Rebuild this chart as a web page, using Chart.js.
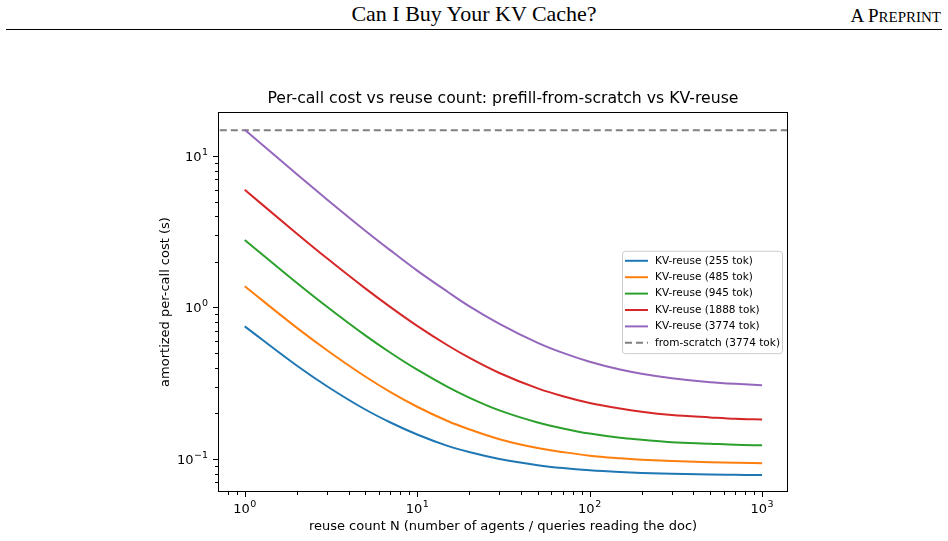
<!DOCTYPE html>
<html>
<head>
<meta charset="utf-8">
<script src="https://cdn.jsdelivr.net/npm/chart.js@4.4.1/dist/chart.umd.min.js"></script>
<style>
  body { margin: 0; background: #fff; }
  #page { position: relative; width: 948px; height: 541px; overflow: hidden; }
  #runhead { position: absolute; left: 0; top: 2px; width: 948px; text-align: center;
    font: 22px "Liberation Serif", "DejaVu Serif", serif; color: #000; line-height: 24px; }
  #preprint { position: absolute; right: 7px; top: 5px; font: 19px "Liberation Serif", serif;
    color: #000; line-height: 22px; }
  #preprint span { font-size: 15px; }
  #rule { position: absolute; left: 6px; width: 936px; top: 29px; height: 1px; background: #000; }
  #chart { position: absolute; left: 0; top: 0; }
</style>
</head>
<body>
<div id="page">
  <div id="runhead">Can I Buy Your KV Cache?</div>
  <div id="preprint">A P<span>REPRINT</span></div>
  <div id="rule"></div>
  <canvas id="chart" width="948" height="541"></canvas>
</div>
<script>
// reuse counts N sampled along the x axis
const reuseN = [1, 2, 3, 5, 7, 10, 15, 20, 30, 50, 70, 100, 150, 200, 300, 500, 700, 1000];

// amortized per-call cost (s)
const cost255 = [0.75, 0.414, 0.302, 0.212, 0.174, 0.145, 0.122, 0.111, 0.0999, 0.0910, 0.0871, 0.0842, 0.0820, 0.0809, 0.0797, 0.0788, 0.0785, 0.0782];
const cost485 = [1.38, 0.736, 0.522, 0.350, 0.276, 0.221, 0.178, 0.157, 0.135, 0.118, 0.111, 0.105, 0.101, 0.0989, 0.0968, 0.0951, 0.0943, 0.0938];
const cost945 = [2.79, 1.455, 1.01, 0.654, 0.502, 0.388, 0.299, 0.254, 0.209, 0.174, 0.159, 0.147, 0.138, 0.134, 0.129, 0.126, 0.124, 0.123];
const cost1888 = [5.98, 3.08, 2.11, 1.336, 1.005, 0.756, 0.563, 0.466, 0.369, 0.292, 0.259, 0.234, 0.215, 0.205, 0.195, 0.188, 0.184, 0.182];
const cost3774 = [14.9, 7.59, 5.16, 3.21, 2.38, 1.75, 1.27, 1.02, 0.779, 0.584, 0.501, 0.438, 0.389, 0.365, 0.341, 0.321, 0.313, 0.307];
const scratchCost = 14.8;

const seriesLabels = ['KV-reuse (255 tok)', 'KV-reuse (485 tok)', 'KV-reuse (945 tok)', 'KV-reuse (1888 tok)', 'KV-reuse (3774 tok)'];
const scratchLabel = 'from-scratch (3774 tok)';
const seriesColors = ['#1f77b4', '#ff7f0e', '#2ca02c', '#d62728', '#9467bd'];

// axis limits and ticks (powers of ten)
const xRange = [0.717, 1413];
const yRange = [0.0605, 19.5];
const xMajor = [1, 10, 100, 1000];
const yMajor = [0.1, 1, 10];

function minorTicks(range) {
  const out = [];
  for (let e = -2; e <= 3; e++) {
    for (let m = 2; m <= 9; m++) {
      const v = m * Math.pow(10, e);
      if (v > range[0] && v < range[1]) out.push(v);
    }
  }
  return out;
}

function expText(v) {
  const e = Math.round(Math.log10(v));
  return e < 0 ? '\u2212' + (-e) : String(e);
}

const FONT = 'DejaVu Sans';
const allCosts = [cost255, cost485, cost945, cost1888, cost3774];

const datasets = allCosts.map((arr, i) => ({
  label: seriesLabels[i],
  data: reuseN.map((n, j) => ({ x: n, y: arr[j] })),
  borderColor: seriesColors[i],
  borderWidth: 2,
  pointRadius: 0,
  cubicInterpolationMode: 'monotone',
}));
datasets.push({
  label: scratchLabel,
  data: xRange.map(n => ({ x: n, y: scratchCost })),
  borderColor: '#808080',
  borderWidth: 2,
  borderDash: [7, 4],
  pointRadius: 0,
});

const decorations = {
  id: 'decorations',
  afterDatasetsDraw(chart) {
    const { ctx, chartArea: a, scales: { x, y } } = chart;
    ctx.save();

    // frame
    ctx.strokeStyle = '#000';
    ctx.lineWidth = 1;
    ctx.strokeRect(a.left + 0.5, a.top + 0.5, a.right - a.left - 1, a.bottom - a.top - 1);

    // tick marks
    const tick = (vals, len, isX) => {
      vals.forEach(v => {
        ctx.beginPath();
        if (isX) {
          const px = Math.round(x.getPixelForValue(v)) + 0.5;
          ctx.moveTo(px, a.bottom);
          ctx.lineTo(px, a.bottom + len);
        } else {
          const py = Math.round(y.getPixelForValue(v)) + 0.5;
          ctx.moveTo(a.left, py);
          ctx.lineTo(a.left - len, py);
        }
        ctx.stroke();
      });
    };
    tick(xMajor, 5, true);
    tick(minorTicks(xRange), 3, true);
    tick(yMajor, 5, false);
    tick(minorTicks(yRange), 3, false);

    // tick labels like 10^k
    ctx.fillStyle = '#000';
    ctx.textBaseline = 'alphabetic';
    ctx.textAlign = 'left';
    const drawPow = (v, left, base) => {
      ctx.font = '13px ' + FONT;
      const w10 = ctx.measureText('10').width;
      ctx.fillText('10', left, base);
      ctx.font = '9.5px ' + FONT;
      ctx.fillText(expText(v), left + w10 + 0.5, base - 6);
    };
    const powWidth = v => {
      ctx.font = '13px ' + FONT;
      const w10 = ctx.measureText('10').width;
      ctx.font = '9.5px ' + FONT;
      return w10 + 0.5 + ctx.measureText(expText(v)).width;
    };
    xMajor.forEach(v => {
      const px = x.getPixelForValue(v);
      drawPow(v, px - powWidth(v) / 2, a.bottom + 21);
    });
    yMajor.forEach(v => {
      const py = y.getPixelForValue(v);
      drawPow(v, a.left - 10 - powWidth(v), py + 5);
    });

    // title and axis labels
    ctx.textAlign = 'center';
    ctx.textBaseline = 'middle';
    const cx = (a.left + a.right) / 2;
    ctx.font = '15.7px ' + FONT;
    ctx.fillText('Per-call cost vs reuse count: prefill-from-scratch vs KV-reuse', cx, a.top - 13);
    ctx.font = '13px ' + FONT;
    ctx.fillText('reuse count N (number of agents / queries reading the doc)', cx, a.bottom + 35);
    ctx.save();
    ctx.translate(a.left - 52, (a.top + a.bottom) / 2);
    ctx.rotate(-Math.PI / 2);
    ctx.fillText('amortized per-call cost (s)', 0, 0);
    ctx.restore();

    // legend
    const labels = seriesLabels.concat([scratchLabel]);
    const rowH = 16.4;
    const boxW = 160, boxH = labels.length * rowH + 4;
    const bx = a.right - 6 - boxW;
    const by = (a.top + a.bottom) / 2 - boxH / 2;
    ctx.beginPath();
    ctx.roundRect(bx + 0.5, by + 0.5, boxW, boxH, 3);
    ctx.fillStyle = 'rgba(255,255,255,0.8)';
    ctx.fill();
    ctx.strokeStyle = '#cccccc';
    ctx.lineWidth = 1;
    ctx.stroke();
    ctx.font = '10.5px ' + FONT;
    ctx.textAlign = 'left';
    labels.forEach((lab, i) => {
      const ry = by + 10 + i * rowH;
      ctx.beginPath();
      ctx.lineWidth = 2;
      if (i < seriesColors.length) {
        ctx.strokeStyle = seriesColors[i];
        ctx.setLineDash([]);
      } else {
        ctx.strokeStyle = '#808080';
        ctx.setLineDash([7, 4]);
      }
      ctx.moveTo(bx + 3, ry);
      ctx.lineTo(bx + 26, ry);
      ctx.stroke();
      ctx.setLineDash([]);
      ctx.fillStyle = '#000';
      ctx.fillText(lab, bx + 33, ry);
    });
    ctx.restore();
  }
};

new Chart(document.getElementById('chart').getContext('2d'), {
  type: 'line',
  data: { datasets },
  options: {
    responsive: false,
    animation: false,
    devicePixelRatio: 1,
    layout: { padding: { top: 112, right: 160, left: 0, bottom: 0 } },
    plugins: { legend: { display: false }, tooltip: { enabled: false } },
    scales: {
      x: {
        type: 'logarithmic',
        min: xRange[0],
        max: xRange[1],
        grid: { display: false, drawTicks: false },
        border: { display: false },
        ticks: { display: false },
        afterFit: scale => { scale.height = 49; },
      },
      y: {
        type: 'logarithmic',
        min: yRange[0],
        max: yRange[1],
        grid: { display: false, drawTicks: false },
        border: { display: false },
        ticks: { display: false },
        afterFit: scale => { scale.width = 218; },
      },
    },
  },
  plugins: [decorations],
});
</script>
</body>
</html>
